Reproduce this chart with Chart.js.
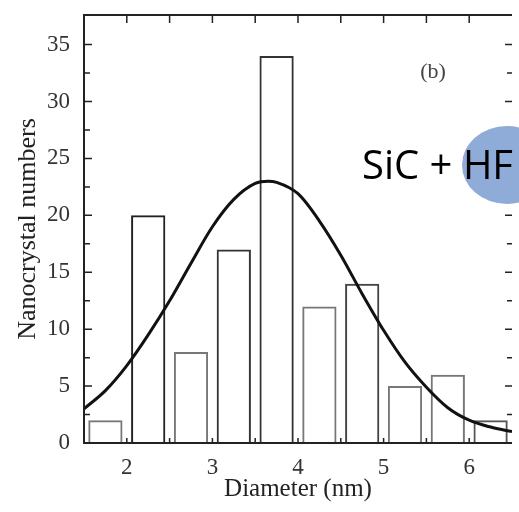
<!DOCTYPE html>
<html>
<head>
<meta charset="utf-8">
<script src="https://cdn.jsdelivr.net/npm/chart.js@4/dist/chart.umd.min.js"></script>
<style>
  html, body { margin: 0; padding: 0; background: #fff; }
  #wrap { width: 519px; height: 512px; }
</style>
</head>
<body>
<div id="wrap"><canvas id="sizeChart" width="519" height="512"></canvas></div>
<script>
// histogram bins (bin centre, nm) and counts
const binCentres = [1.75, 2.25, 2.75, 3.25, 3.75, 4.25, 4.75, 5.25, 5.75, 6.25];
const counts = [2, 20, 8, 17, 34, 12, 14, 5, 6, 2];

// fitted curve
const fitX = [1.5, 1.75, 2.0, 2.25, 2.5, 2.75, 3.0, 3.25, 3.5, 3.65, 3.75, 4.0, 4.25, 4.5, 4.75, 5.0, 5.25, 5.5, 5.75, 6.0, 6.25, 6.5];
const fitY = [3.0, 4.6, 6.8, 9.5, 12.5, 15.8, 19.0, 21.4, 22.8, 23.0, 22.9, 21.9, 19.5, 16.5, 13.1, 9.9, 7.1, 4.9, 3.1, 2.0, 1.4, 1.0];

const xTicks = [2, 3, 4, 5, 6];
const xMinorTicks = [2.5, 3.5, 4.5, 5.5];
const yTicks = [0, 5, 10, 15, 20, 25, 30, 35];
const yMinorTicks = [2.5, 7.5, 12.5, 17.5, 22.5, 27.5, 32.5];

const serif = "'Liberation Serif', 'Times New Roman', serif";

const framePlugin = {
    id: "frame",
    afterDatasetsDraw(chart) {
        const ctx = chart.ctx;
        const a = chart.chartArea;
        const xs = chart.scales.x;
        const ys = chart.scales.y;
        ctx.save();
        ctx.strokeStyle = "#222";
        ctx.lineWidth = 2;
        ctx.beginPath();
        ctx.moveTo(a.right, a.top);
        ctx.lineTo(a.left, a.top);
        ctx.lineTo(a.left, a.bottom);
        ctx.lineTo(a.right, a.bottom);
        ctx.stroke();

        ctx.lineWidth = 1.5;
        ctx.beginPath();
        xTicks.concat(xMinorTicks).forEach(function (v) {
            const px = xs.getPixelForValue(v);
            ctx.moveTo(px, a.top);
            ctx.lineTo(px, a.top + 8);
            ctx.moveTo(px, a.bottom);
            ctx.lineTo(px, a.bottom - 5);
        });
        yTicks.forEach(function (v) {
            const py = ys.getPixelForValue(v);
            ctx.moveTo(a.left, py);
            ctx.lineTo(a.left + 8, py);
            ctx.moveTo(a.right, py);
            ctx.lineTo(a.right - 7, py);
        });
        yMinorTicks.forEach(function (v) {
            const py = ys.getPixelForValue(v);
            ctx.moveTo(a.left, py);
            ctx.lineTo(a.left + 6, py);
            ctx.moveTo(a.right, py);
            ctx.lineTo(a.right - 5, py);
        });
        ctx.stroke();

        // panel label
        ctx.fillStyle = "#444";
        ctx.font = "22px " + serif;
        ctx.textAlign = "center";
        ctx.textBaseline = "middle";
        ctx.fillText("(b)", 433, 72);

        // overlay label
        ctx.fillStyle = "#8fabd8";
        ctx.beginPath();
        ctx.ellipse(507, 165, 45, 39, 0, 0, Math.PI * 2);
        ctx.fill();
        ctx.fillStyle = "#000";
        ctx.font = "40px 'Open Sans', sans-serif";
        ctx.textAlign = "left";
        ctx.textBaseline = "alphabetic";
        ctx.fillText("SiC + HF", 362, 179);
        ctx.restore();
    },
};

new Chart(document.getElementById("sizeChart").getContext("2d"), {
    type: "bar",
    data: {
        datasets: [
            {
                type: "line",
                data: fitX.map((x, i) => ({ x: x, y: fitY[i] })),
                borderColor: "#111",
                borderWidth: 3,
                pointRadius: 0,
                cubicInterpolationMode: "monotone",
                fill: false,
            },
            {
                type: "bar",
                data: binCentres.map((x, i) => ({ x: x, y: counts[i] })),
                backgroundColor: "rgba(255, 255, 255, 0)",
                borderColor: ["#777", "#222", "#777", "#333", "#333", "#777", "#444", "#777", "#777", "#555"],
                borderWidth: 2,
                categoryPercentage: 1,
                barPercentage: 0.8,
            },
        ],
    },
    options: {
        responsive: false,
        animation: false,
        layout: { padding: { top: 15, right: 7, left: 0, bottom: 0 } },
        plugins: {
            legend: { display: false },
            tooltip: { enabled: false },
        },
        scales: {
            x: {
                type: "linear",
                min: 1.5,
                max: 6.5,
                offset: false,
                grid: { display: false },
                border: { display: false },
                afterBuildTicks: (scale) => { scale.ticks = xTicks.map((v) => ({ value: v })); },
                afterFit: (scale) => {
                    scale.height = 69;
                    scale.paddingLeft = 0;
                    scale.paddingRight = 0;
                },
                ticks: {
                    padding: 3,
                    color: "#333",
                    font: { family: serif, size: 23 },
                },
                title: {
                    display: true,
                    text: "Diameter (nm)",
                    color: "#222",
                    padding: { top: 0, bottom: 8 },
                    font: { family: serif, size: 25 },
                },
            },
            y: {
                min: 0,
                max: 37.6,
                grid: { display: false },
                border: { display: false },
                afterBuildTicks: (scale) => { scale.ticks = yTicks.map((v) => ({ value: v })); },
                afterFit: (scale) => {
                    scale.width = 84;
                    scale.paddingTop = 0;
                    scale.paddingBottom = 0;
                },
                ticks: {
                    padding: 6,
                    color: "#333",
                    font: { family: serif, size: 23 },
                },
                title: {
                    display: true,
                    text: "Nanocrystal numbers",
                    color: "#222",
                    padding: { top: 13, bottom: 0 },
                    font: { family: serif, size: 26 },
                },
            },
        },
    },
    plugins: [framePlugin],
});
</script>
</body>
</html>
